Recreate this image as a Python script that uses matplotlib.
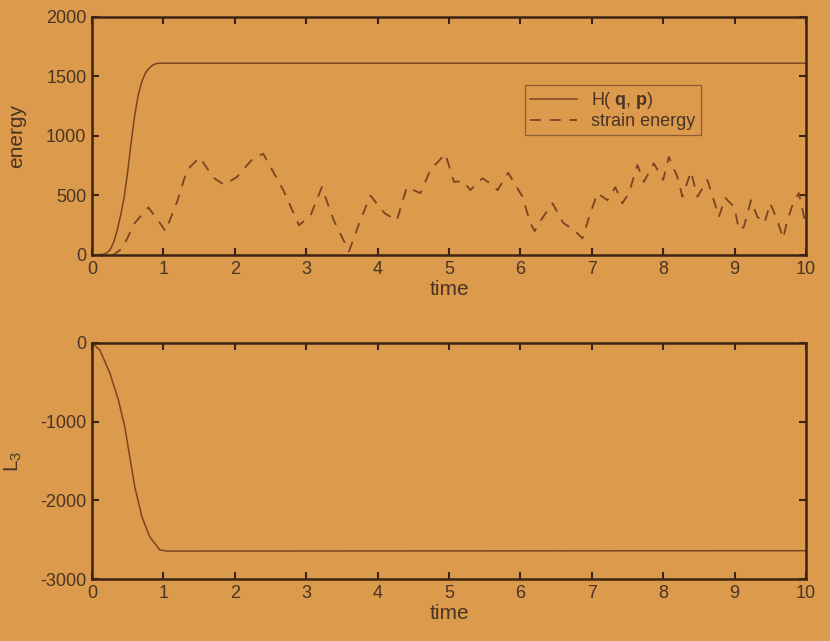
import numpy as np
import matplotlib
matplotlib.use("Agg")
import matplotlib.pyplot as plt

plt.rcParams['font.family'] = ['Liberation Sans', 'DejaVu Sans']
plt.rcParams['mathtext.fontset'] = 'custom'
plt.rcParams['mathtext.rm'] = 'Liberation Sans'
plt.rcParams['mathtext.bf'] = 'Liberation Sans:bold'
plt.rcParams['axes.unicode_minus'] = False

# Hamiltonian H(q,p) versus time
t_H = [0, 0.15, 0.2, 0.25, 0.3, 0.35, 0.4, 0.45, 0.5, 0.55, 0.6, 0.65, 0.7,
       0.75, 0.8, 0.85, 0.9, 0.95, 10]
H = [0, 5, 15, 40, 100, 200, 330, 480, 700, 950, 1180, 1350, 1460,
     1530, 1570, 1595, 1608, 1612, 1612]

# strain energy
t_S = [0, 0.3, 0.43, 0.6, 0.79, 0.95, 1.03, 1.2, 1.33, 1.51, 1.7, 1.85, 2.03,
       2.26, 2.4, 2.68, 2.9, 3.06, 3.22, 3.38, 3.6, 3.76, 3.9, 4.1, 4.27, 4.41,
       4.6, 4.74, 4.95, 5.07, 5.2, 5.3, 5.47, 5.58, 5.68, 5.83, 6.03, 6.14, 6.2,
       6.26, 6.45, 6.6, 6.75, 6.87, 6.98, 7.08, 7.22, 7.33, 7.43, 7.52, 7.64,
       7.73, 7.87, 8.0, 8.08, 8.2, 8.27, 8.39, 8.48, 8.62, 8.71, 8.78, 8.87,
       9.0, 9.06, 9.13, 9.23, 9.32, 9.42, 9.5, 9.6, 9.68, 9.74, 9.82, 9.9, 10.0]
S = [0, 0, 60, 270, 400, 270, 200, 460, 714, 820, 650, 590, 655,
     815, 850, 545, 250, 330, 570, 300, 30, 294, 500, 350, 290, 570,
     520, 714, 850, 615, 620, 545, 645, 600, 545, 690, 490, 270, 200,
     268, 435, 270, 210, 140, 350, 520, 460, 570, 435, 520, 756,
     615, 770, 630, 825, 655, 490, 700, 490, 630, 460, 320, 480,
     400, 210, 235, 460, 320, 270, 435, 290, 140, 290, 435, 520, 250]

# angular momentum L3
t_L = [0, 0.11, 0.25, 0.37, 0.46, 0.53, 0.6, 0.7, 0.81, 0.95, 1.05, 10]
L3 = [0, -89, -380, -725, -1067, -1450, -1830, -2210, -2465, -2630, -2645, -2640]

bg = '#DC9A4C'
axc = '#3B2414'
linec = '#7A4422'
txtc = '#4A3424'

fig = plt.figure(figsize=(8.3, 6.41), dpi=100, facecolor=bg)
ax1 = fig.add_axes([0.1108, 0.6022, 0.8602, 0.3713], facecolor=bg)
ax2 = fig.add_axes([0.1108, 0.0967, 0.8602, 0.3682], facecolor=bg)

for ax in (ax1, ax2):
    for sp in ax.spines.values():
        sp.set_color(axc)
        sp.set_linewidth(1.8)
    ax.tick_params(direction='in', length=5, width=1.5, color=axc,
                   labelcolor=txtc, labelsize=13, top=True, right=True, pad=4)
    ax.set_xlim(0, 10)
    ax.set_xticks(range(0, 11))
    ax.set_xlabel('time', fontsize=15, color=txtc, labelpad=2)

ax1.plot(t_H, H, color=linec, lw=1.1, label=r'H( $\mathbf{q}$, $\mathbf{p}$)')
ax1.plot(t_S, S, color=linec, lw=1.3, dashes=(6, 5), label='strain energy')
ax1.set_ylim(0, 2000)
ax1.set_yticks([0, 500, 1000, 1500, 2000])
ax1.set_ylabel('energy', fontsize=15, color=txtc)
ax1.yaxis.set_label_coords(-0.092, 0.5)
leg = ax1.legend(loc='upper left', bbox_to_anchor=(0.606, 0.715), fontsize=13,
                 frameon=True, fancybox=False, borderpad=0.3, handlelength=2.6,
                 labelspacing=0.1, borderaxespad=0)
leg.get_frame().set_facecolor(bg)
leg.get_frame().set_edgecolor('#7A5030')
leg.get_frame().set_linewidth(0.9)
for tx in leg.get_texts():
    tx.set_color(txtc)

ax2.plot(t_L, L3, color=linec, lw=1.1)
ax2.set_ylim(-3000, 0)
ax2.set_yticks([-3000, -2000, -1000, 0])
ax2.set_ylabel(r'L$_3$', fontsize=15, color=txtc)
ax2.yaxis.set_label_coords(-0.095, 0.5)

fig.savefig('out.png', dpi=100, facecolor=bg)
